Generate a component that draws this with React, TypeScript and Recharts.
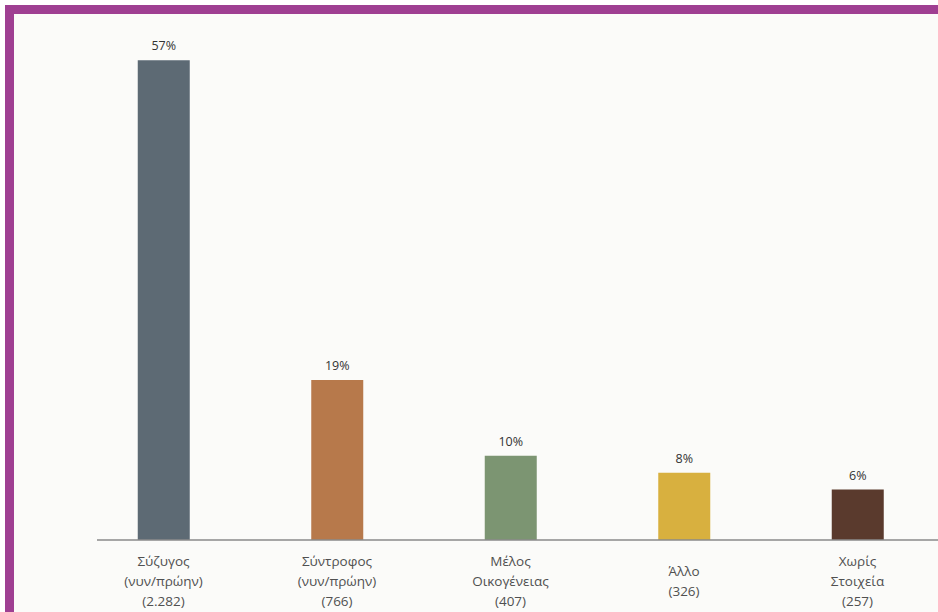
import { BarChart, Bar, XAxis, YAxis, Cell, LabelList } from 'recharts';

// Category names (tick lines), respondents count and share of total (%)
const categoryLines = [
  ['Σύζυγος', '(νυν/πρώην)'],
  ['Σύντροφος', '(νυν/πρώην)'],
  ['Μέλος', 'Οικογένειας'],
  ['Άλλο'],
  ['Χωρίς', 'Στοιχεία'],
];
const countLabels = ['(2.282)', '(766)', '(407)', '(326)', '(257)'];
const shares = [57, 19, 10, 8, 6];
const barColors = ['#5d6a74', '#b7794b', '#7c9572', '#d8b03f', '#5a3a2d'];

const data = categoryLines.map((lines, i) => ({
  name: lines.join(' '),
  share: shares[i],
}));

const FONT = '"Open Sans", "Noto Sans", sans-serif';

function CategoryTick(props: any) {
  const { x, y, payload } = props;
  const lines = [...categoryLines[payload.index], countLabels[payload.index]];
  const start = 26 + (3 - lines.length) * 10;
  return (
    <text textAnchor="middle" fill="#505050" fontSize={13.5} fontFamily={FONT}>
      {lines.map((line, i) => (
        <tspan key={i} x={x} y={y + start + i * 20}>
          {line}
        </tspan>
      ))}
    </text>
  );
}

export default function App() {
  return (
    <div
      style={{
        position: 'absolute',
        left: 0,
        top: 0,
        width: 938,
        height: 612,
        overflow: 'hidden',
        background: '#ffffff',
      }}
    >
      <div
        style={{
          position: 'absolute',
          left: 5,
          top: 5,
          width: 933,
          height: 607,
          boxSizing: 'border-box',
          borderLeft: '9px solid #9f3f92',
          borderTop: '9px solid #9f3f92',
          background: '#fbfbf9',
        }}
      />
      <div style={{ position: 'absolute', left: 0, top: 0 }}>
        <BarChart
          width={960}
          height={612}
          data={data}
          margin={{ top: 35, right: 15.75, bottom: 12, left: 76.75 }}
          barCategoryGap={0}
        >
          <XAxis
            dataKey="name"
            height={60}
            tickLine={false}
            tickSize={0}
            tickMargin={0}
            interval={0}
            axisLine={{ stroke: '#8a8a8a', strokeWidth: 1.5, strokeDasharray: '0 20.25 5000' }}
            tick={<CategoryTick />}
          />
          <YAxis hide domain={[0, 60]} />
          <Bar dataKey="share" barSize={52} isAnimationActive={false}>
            {data.map((_, i) => (
              <Cell key={i} fill={barColors[i]} />
            ))}
            <LabelList
              dataKey="share"
              position="top"
              offset={10}
              formatter={(v: any) => `${v}%`}
              fill="#333333"
              fontSize={12.5}
              fontFamily={FONT}
            />
          </Bar>
        </BarChart>
      </div>
    </div>
  );
}
